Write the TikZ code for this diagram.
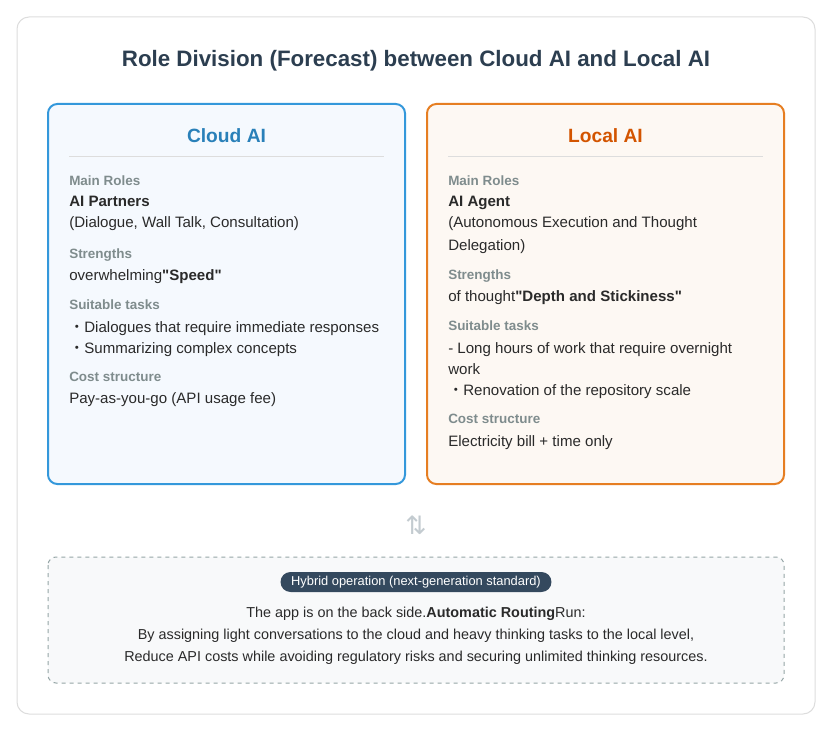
\documentclass[tikz,border=0pt]{standalone}
\usepackage{fontspec}
\setmainfont{Liberation Sans}
\newfontfamily\symfont{DejaVu Sans}
\newfontfamily\cjkfont{Noto Sans CJK JP}

\definecolor{framegray}{HTML}{DDDDDD}
\definecolor{titledark}{HTML}{2C3E50}
\definecolor{cloudblue}{HTML}{3498DB}
\definecolor{cloudhead}{HTML}{2980B9}
\definecolor{cloudbg}{HTML}{F5F9FE}
\definecolor{localorange}{HTML}{E67E22}
\definecolor{localhead}{HTML}{D35400}
\definecolor{localbg}{HTML}{FDF8F3}
\definecolor{labelgray}{HTML}{7F8C8D}
\definecolor{textdark}{HTML}{2A2A2A}
\definecolor{swapgray}{HTML}{C3CBD0}
\definecolor{hybridline}{HTML}{95A5A6}
\definecolor{hybridbg}{HTML}{F8F9FA}
\definecolor{badgedark}{HTML}{34495E}

\newcommand{\dotmark}{{\cjkfont ・}}
\newcommand{\qmark}{\textquotedbl}

\begin{document}
\begin{tikzpicture}[x=0.75pt,y=-0.75pt,
      panel/.style={line width=1.5pt, rounded corners=7pt},
      head/.style={anchor=base, inner sep=0pt, font=\bfseries\fontsize{14.4}{17}\selectfont},
      lbl/.style={anchor=base west, inner sep=0pt, text=labelgray, font=\bfseries\fontsize{10.1}{12}\selectfont},
      txt/.style={anchor=base west, inner sep=0pt, text=textdark, font=\fontsize{11.3}{14}\selectfont},
      hyb/.style={anchor=base, inner sep=0pt, text=textdark, font=\fontsize{10.8}{13}\selectfont},
      badge/.style={rounded corners=7.5pt, fill=badgedark, text=white, inner xsep=8pt, minimum height=15pt, inner ysep=0pt, font=\fontsize{9.65}{11}\selectfont}
  ]

  % Frame
  \useasboundingbox (0,0) rectangle (832,731);
  \draw[framegray, line width=0.75pt, rounded corners=9pt, fill=white] (17,17) rectangle (815,714);
  \node[anchor=base, inner sep=0pt, text=titledark, font=\bfseries\fontsize{16.75}{20}\selectfont] (title) at (416,67) {Role Division (Forecast) between Cloud AI and Local AI};

  % Cloud AI
  \draw[panel, draw=cloudblue, fill=cloudbg] (48,104) rectangle (405,484);
  \node[head, text=cloudhead] (cloudhead) at (226.5,142.5) {Cloud AI};
  \draw[framegray, line width=0.75pt] (69,157) -- (384,157);
  \node[lbl] (croles) at (69,185.5) {Main Roles};
  \node[txt, font=\bfseries\fontsize{11.3}{14}\selectfont] (cpartner) at (69,207) {AI Partners};
  \node[txt] (cdialog) at (69,228) {(Dialogue, Wall Talk, Consultation)};
  \node[lbl] (cstrong) at (69,258.5) {Strengths};
  \node[txt] (cspeed) at (69,280) {overwhelming\textbf{\qmark Speed\qmark}};
  \node[lbl] (ctasks) at (69,309.5) {Suitable tasks};
  \node[txt] (ctask1) at (69,332) {\dotmark Dialogues that require immediate responses};
  \node[txt] (ctask2) at (69,353) {\dotmark Summarizing complex concepts};
  \node[lbl] (ccost) at (69,381.5) {Cost structure};
  \node[txt] (cfee) at (69,403) {Pay-as-you-go (API usage fee)};

  % Local AI
  \draw[panel, draw=localorange, fill=localbg] (427,104) rectangle (784,484);
  \node[head, text=localhead] (localhead) at (605.5,142.5) {Local AI};
  \draw[framegray, line width=0.75pt] (448,157) -- (763,157);
  \node[lbl] (lroles) at (448,185.5) {Main Roles};
  \node[txt, font=\bfseries\fontsize{11.3}{14}\selectfont] (lagent) at (448,207) {AI Agent};
  \node[txt] (lauto) at (448,228) {(Autonomous Execution and Thought};
  \node[txt] (ldeleg) at (448,250) {Delegation)};
  \node[lbl] (lstrong) at (448,279.5) {Strengths};
  \node[txt] (ldepth) at (448,301) {of thought\textbf{\qmark Depth and Stickiness\qmark}};
  \node[lbl] (ltasks) at (448,330.5) {Suitable tasks};
  \node[txt] (ltask1) at (448,353) {- Long hours of work that require overnight};
  \node[txt] (ltask1b) at (448,374) {work};
  \node[txt] (ltask2) at (448,395) {\dotmark Renovation of the repository scale};
  \node[lbl] (lcost) at (448,423.5) {Cost structure};
  \node[txt] (lbill) at (448,446) {Electricity bill + time only};

  % Swap sign
  \node[inner sep=0pt, text=swapgray, font=\symfont\fontsize{19}{22}\selectfont] (swap) at (416,525) {⇅};

  % Hybrid
  \draw[hybridline, line width=0.75pt, dashed, fill=hybridbg, rounded corners=6pt] (48,557) rectangle (784,683);
  \node[badge] (hybrid) at (416,582) {Hybrid operation (next-generation standard)};
  \node[hyb] (hline1) at (416,617) {The app is on the back side.\textbf{Automatic Routing}Run:};
  \node[hyb] (hline2) at (416,639) {By assigning light conversations to the cloud and heavy thinking tasks to the local level,};
  \node[hyb] (hline3) at (416,661) {Reduce API costs while avoiding regulatory risks and securing unlimited thinking resources.};

\end{tikzpicture}
\end{document}
